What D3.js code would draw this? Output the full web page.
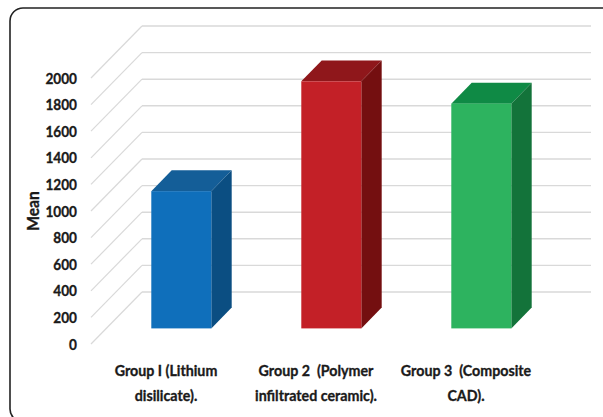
<!DOCTYPE html>
<html><head><meta charset="utf-8">
<script src="https://cdn.jsdelivr.net/npm/d3@7"></script>
<style>
body{margin:0;background:#fff;}
svg{display:block;}
text{font-family:Lato,"Open Sans",sans-serif;font-weight:bold;fill:#1a1a1a;stroke:#1a1a1a;stroke-width:0.35px;}
</style></head>
<body>
<svg id="c" width="603" height="417"></svg>
<script>
const categories = [["Group I (Lithium","disilicate)."],["Group 2  (Polymer","infiltrated ceramic)."],["Group 3  (Composite","CAD)."]];
const values = [1032, 1858, 1690];
const yTicks = [0,200,400,600,800,1000,1200,1400,1600,1800,2000];
const frontColors = ["#0f6fbb","#c32027","#2db35f"];
const topColors = ["#145e98","#8f171b","#0f8a45"];
const sideColors = ["#0b4e82","#740f10","#13733a"];
const yLabel = "Mean";

const svg = d3.select("#c");
svg.append("rect").attr("x",10).attr("y",8).attr("width",610).attr("height",414)
  .attr("rx",13).attr("fill","#fff").attr("stroke","#222").attr("stroke-width",1.6);

const DX = 51, DY = -52;      // depth vector of the floor
const F0 = 0.3, F1 = 0.7;     // bar depth fraction range
const x = d3.scaleBand().domain(d3.range(categories.length)).range([91,541])
  .paddingInner(0.6).paddingOuter(0.3);
const y = d3.scaleLinear().domain([0,2000]).range([344,78]);
const SX = 0.88;

const g = svg.append("g");
yTicks.forEach(t=>{
  g.append("line").attr("x1",91+DX).attr("x2",591).attr("y1",y(t)+DY).attr("y2",y(t)+DY)
    .attr("stroke","#d9d9d9").attr("stroke-width",1.4);
  g.append("line").attr("x1",91).attr("y1",y(t)).attr("x2",91+DX).attr("y2",y(t)+DY)
    .attr("stroke","#d9d9d9").attr("stroke-width",1.2);
});
g.selectAll("text.yt").data(yTicks).join("text").attr("class","yt")
  .attr("transform",t=>`translate(77,${y(t)}) scale(${SX},1)`)
  .attr("dy","0.36em").attr("text-anchor","end")
  .attr("font-size",15.5).text(t=>t);

svg.append("text").attr("transform","translate(39,211) rotate(-90) scale(0.95,1)")
  .attr("text-anchor","middle").attr("font-size",16.5).text(yLabel);

values.forEach((v,i)=>{
  const x0 = x(i) + F0*DX, x1 = x0 + x.bandwidth();
  const yb = y(0) + F0*DY, yt = y(v) + F0*DY;
  const ddx = (F1-F0)*DX, ddy = (F1-F0)*DY;
  g.append("polygon").attr("points",[[x0,yt],[x1,yt],[x1+ddx,yt+ddy],[x0+ddx,yt+ddy]].join(" "))
    .attr("fill",topColors[i]);
  g.append("polygon").attr("points",[[x1,yt],[x1+ddx,yt+ddy],[x1+ddx,yb+ddy],[x1,yb]].join(" "))
    .attr("fill",sideColors[i]);
  g.append("rect").attr("x",x0).attr("y",yt).attr("width",x1-x0).attr("height",yb-yt)
    .attr("fill",frontColors[i]);
});

categories.forEach((lines,i)=>{
  const cx = x(i)+x.bandwidth()/2;
  const t = svg.append("text").attr("text-anchor","middle").attr("font-size",15.5)
    .attr("transform",`translate(${cx},0) scale(0.92,1)`)
    .style("white-space","pre");
  lines.forEach((s,k)=>{
    t.append("tspan").attr("x",0).attr("y",376+k*25).text(s);
  });
});
</script>
</body></html>
